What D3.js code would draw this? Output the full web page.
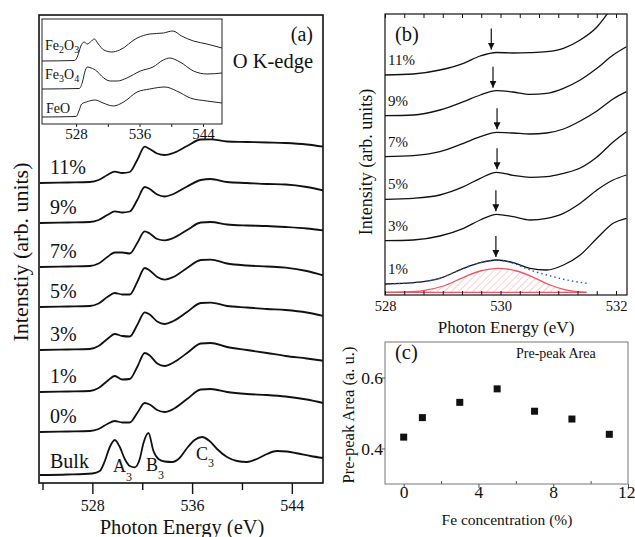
<!DOCTYPE html>
<html>
<head>
<meta charset="utf-8">
<script src="https://cdn.jsdelivr.net/npm/d3@7"></script>
<style>
body { margin: 0; background: #fff; }
svg text { font-family: "Liberation Serif", "Times New Roman", Times, serif !important; fill: #111; }
</style>
</head>
<body>
<script>
// ---- panel (a): O K-edge spectra, heights above each curve's own baseline
var energyA = [523.8, 526, 527.8, 528.5, 529.2, 529.8, 530.4, 531, 531.6, 532.2, 532.6, 533.2,
               533.8, 534.5, 535.6, 536.7, 537.5, 538.8, 540.4, 542, 543.5, 545.2, 546.5];
var fe11 = [0, 0.5, 1, 3, 8, 11.3, 10, 11, 23, 36.3, 34, 29.5, 28, 30, 37, 43.5, 43.7, 41.5, 41, 40.5, 40, 38.5, 36.3];
var fe9  = [0, 0.5, 1, 3, 8, 11.6, 10.5, 11.5, 23, 36, 34, 28.5, 26.5, 29, 36.5, 43, 44, 41, 40, 39, 38.5, 36, 32.6];
var fe7  = [0, 0.5, 1, 3.5, 10, 14.5, 14.5, 13.5, 24, 35.7, 33.5, 28, 26.7, 29, 37, 44.5, 45, 42.5, 41.5, 41, 40, 38.5, 36.7];
var fe5  = [0, 0.5, 1, 3.5, 10, 14, 12.5, 12.5, 25, 39, 36.5, 30, 27.4, 30, 39, 47, 47.4, 43.5, 41.5, 40.5, 39.4, 36, 31.7];
var fe3  = [0, 0.5, 1, 4, 11, 16, 14, 13.5, 25, 37.7, 35.5, 28.5, 26, 29, 38, 47, 47.3, 44, 42.5, 41, 40, 37.5, 34];
var fe1  = [0, 0.5, 1, 4, 11, 16, 12.5, 13, 25, 39, 36.5, 28.5, 26, 29.5, 39, 48.5, 49, 45, 42, 39, 36, 33.5, 31.3];
var fe0  = [0, 0.5, 1, 3, 8, 11, 9.5, 9.5, 19, 29, 27.5, 22, 20, 23, 33, 42.5, 43, 40, 38, 37, 35.5, 32.5, 29];
var labelsA = ["11%", "9%", "7%", "5%", "3%", "1%", "0%"];
var offsetsA = [300, 260, 216, 176, 133, 91, 51];
var seriesA = [fe11, fe9, fe7, fe5, fe3, fe1, fe0];

var energyBulk = [523.8, 526, 528.0, 528.6, 529.0, 529.4, 529.8, 530.2, 530.6, 531.0, 531.4, 531.8,
                  532.1, 532.5, 532.9, 533.3, 533.8, 534.4, 535.0, 535.6, 536.2, 536.8, 537.4, 538.0,
                  538.8, 539.6, 540.4, 541.2, 542.0, 542.8, 543.6, 544.5, 545.5, 546.5];
var bulk = [0, 0.5, 1.5, 4, 14, 28, 35, 28, 16, 9, 7.7, 16, 32, 42, 24, 16, 13.5, 13, 17, 27, 35, 38,
            34, 26, 18, 14, 13, 16, 21, 24, 23.5, 21.5, 19, 17];
var bulkOffset = 8;

// inset reference oxides
var fe2o3E = [523.7, 527.8, 528.2, 528.6, 529.0, 529.4, 529.8, 530.3, 530.8, 531.5, 532.5, 533.5, 535.7, 537.3, 539, 540.2, 541.3, 542.8, 544.5, 546.4];
var fe2o3V = [63, 63.5, 68, 78, 82, 80, 82, 85, 80, 74, 72, 74, 86, 90, 91, 93, 88, 83, 80, 76];
var fe3o4E = [523.7, 528.4, 528.8, 529.1, 529.4, 529.9, 530.6, 531.2, 532.3, 533.2, 534.4, 536.1, 537.7, 539, 539.8, 541.1, 542.8, 544.5, 546.4];
var fe3o4V = [35, 35.5, 42, 52, 57, 56, 53, 48, 43, 43, 46, 53, 57, 64, 66, 62, 53, 50, 51];
var feoE = [523.7, 528, 528.4, 528.7, 529.3, 530.4, 531.4, 532.7, 534, 535.7, 537.3, 539.2, 540.7, 542.4, 544.5, 546.4];
var feoV = [7, 7.5, 14, 20, 22, 24, 21, 18, 22, 32, 35, 37, 33, 26, 23, 21];

// ---- panel (b): pre-edge region
var energyB = [528.0, 528.49, 528.95, 529.36, 529.65, 529.93, 530.22, 530.51, 530.80, 531.09, 531.38, 531.67, 531.95, 532.18];
var b11 = [220, 221, 225, 231.7, 239, 242.5, 242, 242.3, 243.3, 246.7, 255, 268, 289, 305];
var b9  = [179.3, 180, 185, 193.3, 200, 204.3, 203, 200.7, 201.7, 206.7, 215, 226.7, 240, 248.3];
var b7  = [138.3, 139.3, 143.3, 151.7, 158.3, 162.7, 162, 161, 162, 166, 174, 184, 196, 203.3];
var b5  = [95.7, 96.7, 100, 108.3, 116.7, 122.7, 119.7, 117.7, 118.3, 121.7, 127, 138, 153, 163.3];
var b3  = [54.3, 55, 59, 66.7, 75, 80.7, 78.3, 75, 76.7, 81.7, 91.7, 105, 115, 120];
var b1  = [11, 12.3, 16.7, 26.7, 32.3, 35, 32.3, 26.7, 25, 30, 40, 56.7, 71.7, 76.7];
var labelsB = ["11%", "9%", "7%", "5%", "3%", "1%"];
var seriesB = [b11, b9, b7, b5, b3, b1];
var arrowE = [529.84, 529.87, 529.94, 529.94, 529.92, 529.92];

var fitE = [528.0, 528.49, 528.95, 529.36, 529.65, 529.93, 530.22, 530.51, 530.80, 531.09, 531.49];
var fitV = [11, 12.3, 16.7, 26.7, 32.3, 35, 31.7, 25, 20, 15.7, 11.7];
var peakE = [528, 528.35, 528.66, 529.01, 529.36, 529.65, 529.96, 530.28, 530.57, 530.86, 531.09, 531.32, 531.49];
var peakH = [0, 0.4, 1.7, 6.3, 15, 21.3, 24, 21.3, 15, 7.3, 3, 0.7, 0];
var peakBase = 2.7;

// ---- panel (c): pre-peak area
var conc = [0, 1, 3, 5, 7, 9, 11];
var prePeak = [0.432, 0.487, 0.530, 0.568, 0.505, 0.483, 0.440];

var serif = '"Liberation Serif", "Times New Roman", Times, serif';

var svg = d3.select("body").append("svg")
    .attr("width", 635)
    .attr("height", 537)
    .attr("font-family", serif);

svg.append("rect").attr("width", 635).attr("height", 537).attr("fill", "#fff");

function styleAxis(ax, size, color) {
  ax.attr("font-family", serif);
  ax.select(".domain").remove();
  ax.selectAll("line").attr("stroke", color);
  ax.selectAll("text").style("font-size", size + "px").attr("fill", "#111");
}

// ================= panel (a)
var xA = d3.scaleLinear().domain([523.8, 546.5]).range([40, 323]),
    yA = d3.scaleLinear().domain([0, 468]).range([483, 15]);

var gA = svg.append("g");

function lineA(energies, offset) {
  return d3.line()
    .x(function(d, i) { return xA(energies[i]); })
    .y(function(d) { return yA(d + offset); })
    .curve(d3.curveMonotoneX);
}

seriesA.forEach(function(vals, i) {
  gA.append("path")
    .datum(vals)
    .attr("fill", "none")
    .attr("stroke", "#111")
    .attr("stroke-width", 1.8)
    .attr("d", lineA(energyA, offsetsA[i]));
  gA.append("text")
    .attr("x", 50)
    .attr("y", yA(offsetsA[i]) - 9)
    .style("font-size", "20px")
    .text(labelsA[i]);
});

gA.append("path")
  .datum(bulk)
  .attr("fill", "none")
  .attr("stroke", "#111")
  .attr("stroke-width", 1.8)
  .attr("d", lineA(energyBulk, bulkOffset));

gA.append("text").attr("x", 50).attr("y", yA(bulkOffset) - 7).style("font-size", "20px").text("Bulk");

function subLabel(g, x, y, main, sub, size, subSize, subDy) {
  var t = g.append("text").attr("x", x).attr("y", y).style("font-size", size + "px");
  t.append("tspan").text(main);
  t.append("tspan").attr("dy", subDy).style("font-size", subSize + "px").text(sub);
  return t;
}
subLabel(gA, 113, 472, "A", "3", 18, 12, 9);
subLabel(gA, 146, 471, "B", "3", 18, 12, 8);
subLabel(gA, 196, 460, "C", "3", 18, 12, 7);

// frame
gA.append("rect")
  .attr("x", 39).attr("y", 15).attr("width", 284).attr("height", 468)
  .attr("fill", "none").attr("stroke", "#111").attr("stroke-width", 1.6);

var axA = gA.append("g").attr("transform", "translate(0,483)")
  .call(d3.axisBottom(xA).tickValues([528, 536, 544]).tickSize(11).tickSizeOuter(0).tickFormat(d3.format("d")));
styleAxis(axA, 16, "#111");
axA.selectAll("line").attr("stroke-width", 1.4);
axA.selectAll("text").attr("y", 28).attr("dy", 0);

var axAm = gA.append("g").attr("transform", "translate(0,483)")
  .call(d3.axisBottom(xA).tickValues([524, 532, 540]).tickSize(7).tickSizeOuter(0).tickFormat(""));
styleAxis(axAm, 16, "#111");
axAm.selectAll("line").attr("stroke-width", 1.4);

gA.append("text").attr("x", 182).attr("y", 534).attr("text-anchor", "middle")
  .style("font-size", "20.5px").text("Photon Energy (eV)");
gA.append("text").attr("transform", "translate(28,252) rotate(-90)").attr("text-anchor", "middle")
  .style("font-size", "22px").text("Intenstiy (arb. units)");

gA.append("text").attr("x", 313).attr("y", 41).attr("text-anchor", "end").style("font-size", "20px").text("(a)");
gA.append("text").attr("x", 313).attr("y", 68).attr("text-anchor", "end").style("font-size", "20.5px").text("O K-edge");

// inset
var xI = d3.scaleLinear().domain([523.7, 546.4]).range([42, 222]),
    yI = d3.scaleLinear().domain([0, 105]).range([124, 19]);
var gI = svg.append("g");
gI.append("rect").attr("x", 42).attr("y", 19).attr("width", 180).attr("height", 105)
  .attr("fill", "#fff").attr("stroke", "#222").attr("stroke-width", 1);

var lineI = d3.line()
  .x(function(d) { return xI(d[0]); })
  .y(function(d) { return yI(d[1]); })
  .curve(d3.curveMonotoneX);

[[fe2o3E, fe2o3V], [fe3o4E, fe3o4V], [feoE, feoV]].forEach(function(s) {
  gI.append("path")
    .datum(d3.zip(s[0], s[1]))
    .attr("fill", "none").attr("stroke", "#222").attr("stroke-width", 1)
    .attr("d", lineI);
});

var t1 = gI.append("text").attr("x", 45).attr("y", 50).style("font-size", "14px");
t1.append("tspan").text("Fe");
t1.append("tspan").attr("dy", 3).style("font-size", "10px").text("2");
t1.append("tspan").attr("dy", -3).text("O");
t1.append("tspan").attr("dy", 3).style("font-size", "10px").text("3");
var t2 = gI.append("text").attr("x", 45).attr("y", 79).style("font-size", "14px");
t2.append("tspan").text("Fe");
t2.append("tspan").attr("dy", 3).style("font-size", "10px").text("3");
t2.append("tspan").attr("dy", -3).text("O");
t2.append("tspan").attr("dy", 3).style("font-size", "10px").text("4");
gI.append("text").attr("x", 46).attr("y", 113).style("font-size", "14px").text("FeO");

var axI = gI.append("g").attr("transform", "translate(0,124)")
  .call(d3.axisBottom(xI).tickValues([528, 532, 536, 540, 544]).tickSize(3).tickSizeOuter(0)
    .tickFormat(function(d) { return d % 8 === 0 ? d : ""; }));
styleAxis(axI, 15, "#222");
axI.selectAll("text").attr("y", 15).attr("dy", 0);

// ================= panel (b)
var xB = d3.scaleLinear().domain([528, 532.19]).range([385, 627]),
    yB = d3.scaleLinear().domain([0, 281]).range([295, 14]);
var gB = svg.append("g");

var defs = svg.append("defs");
defs.append("clipPath").attr("id", "clipB")
  .append("rect").attr("x", 385).attr("y", 14).attr("width", 242).attr("height", 281);
var pat = defs.append("pattern").attr("id", "hatch")
  .attr("patternUnits", "userSpaceOnUse").attr("width", 5).attr("height", 5)
  .attr("patternTransform", "rotate(45)");
pat.append("line").attr("x1", 0).attr("y1", 0).attr("x2", 0).attr("y2", 5)
  .attr("stroke", "#f3a0a8").attr("stroke-width", 1);
defs.append("marker").attr("id", "arrowhead")
  .attr("viewBox", "0 0 10 10").attr("refX", 10).attr("refY", 5)
  .attr("markerWidth", 7).attr("markerHeight", 7).attr("markerUnits", "userSpaceOnUse")
  .attr("orient", "auto")
  .append("path").attr("d", "M0,0 L10,5 L0,10 z").attr("fill", "#111");

var plotB = gB.append("g").attr("clip-path", "url(#clipB)");

var lineB = d3.line()
  .x(function(d) { return xB(d[0]); })
  .y(function(d) { return yB(d[1]); })
  .curve(d3.curveMonotoneX);

// fitted gaussian
var peakArea = d3.area()
  .x(function(d) { return xB(d[0]); })
  .y0(yB(peakBase))
  .y1(function(d) { return yB(peakBase + d[1]); })
  .curve(d3.curveMonotoneX);
plotB.append("path").datum(d3.zip(peakE, peakH))
  .attr("fill", "url(#hatch)").attr("stroke", "none").attr("d", peakArea);
plotB.append("path").datum(d3.zip(peakE, peakH))
  .attr("fill", "none").attr("stroke", "#ee5566").attr("stroke-width", 1.3)
  .attr("d", peakArea.lineY1());
plotB.append("line")
  .attr("x1", xB(528)).attr("x2", xB(peakE[peakE.length - 1]))
  .attr("y1", yB(peakBase)).attr("y2", yB(peakBase))
  .attr("stroke", "#ee5566").attr("stroke-width", 1.3);

seriesB.forEach(function(vals, i) {
  plotB.append("path").datum(d3.zip(energyB, vals))
    .attr("fill", "none").attr("stroke", "#111").attr("stroke-width", 1.3)
    .attr("d", lineB);
  gB.append("text").attr("x", 388).attr("y", yB(vals[0]) - 10)
    .style("font-size", "15px").text(labelsB[i]);
  var tip = yB(vals[5]) - 3;
  gB.append("line")
    .attr("x1", xB(arrowE[i])).attr("x2", xB(arrowE[i]))
    .attr("y1", tip - 21).attr("y2", tip)
    .attr("stroke", "#111").attr("stroke-width", 1.2)
    .attr("marker-end", "url(#arrowhead)");
});

plotB.append("path").datum(d3.zip(fitE, fitV))
  .attr("fill", "none").attr("stroke", "#3355cc").attr("stroke-width", 1.4)
  .attr("stroke-dasharray", "1.5,3").attr("d", lineB);

gB.append("rect").attr("x", 385).attr("y", 14).attr("width", 242).attr("height", 281)
  .attr("fill", "none").attr("stroke", "#111").attr("stroke-width", 1.2);

var ticksB = d3.range(13).map(function(i) { return 528 + i / 3; });
var axB = gB.append("g").attr("transform", "translate(0,295)")
  .call(d3.axisBottom(xB).tickValues(ticksB).tickSize(-4).tickSizeOuter(0)
    .tickFormat(function(d) {
      var r = Math.round(d);
      return (Math.abs(d - r) < 1e-6 && r % 2 === 0) ? r : "";
    }));
styleAxis(axB, 14.5, "#111");
axB.selectAll("text").attr("y", 16).attr("dy", 0);
var axBt = gB.append("g").attr("transform", "translate(0,14)")
  .call(d3.axisTop(xB).tickValues(ticksB).tickSize(-4).tickSizeOuter(0).tickFormat(""));
styleAxis(axBt, 14.5, "#111");

gB.append("text").attr("x", 395).attr("y", 41).style("font-size", "20.5px").text("(b)");
gB.append("text").attr("x", 506).attr("y", 333).attr("text-anchor", "middle")
  .style("font-size", "17px").text("Photon Energy (eV)");
gB.append("text").attr("transform", "translate(372,162) rotate(-90)").attr("text-anchor", "middle")
  .style("font-size", "18px").text("Intensity (arb. units)");

// ================= panel (c)
var xC = d3.scaleLinear().domain([-1, 12]).range([385, 628]),
    yC = d3.scaleLinear().domain([0.3, 0.7]).range([484, 342]);
var gC = svg.append("g");

gC.append("rect").attr("x", 385).attr("y", 342).attr("width", 243).attr("height", 142)
  .attr("fill", "none").attr("stroke", "#777").attr("stroke-width", 1);

var axC = gC.append("g").attr("transform", "translate(0,484)")
  .call(d3.axisBottom(xC).tickValues([0, 4, 8, 12]).tickSize(4).tickSizeOuter(0).tickFormat(d3.format("d")));
styleAxis(axC, 17.5, "#555");
axC.selectAll("text").attr("y", 14).attr("dy", 0)
  .attr("text-anchor", function(d) { return d === 12 ? "end" : "middle"; })
  .attr("dx", function(d) { return d === 12 ? 7 : 0; });
var axCm = gC.append("g").attr("transform", "translate(0,484)")
  .call(d3.axisBottom(xC).tickValues([2, 6, 10]).tickSize(-3).tickSizeOuter(0).tickFormat(""));
styleAxis(axCm, 17.5, "#555");

var ayC = gC.append("g").attr("transform", "translate(385,0)")
  .call(d3.axisLeft(yC).tickValues([0.4, 0.6]).tickSize(3).tickSizeOuter(0).tickFormat(d3.format(".1f")));
styleAxis(ayC, 17.5, "#555");
ayC.selectAll("text").attr("x", -2);

gC.selectAll("rect.pt")
  .data(d3.zip(conc, prePeak))
  .enter().append("rect")
  .attr("class", "pt")
  .attr("x", function(d) { return xC(d[0]) - 3.5; })
  .attr("y", function(d) { return yC(d[1]) - 3.5; })
  .attr("width", 7).attr("height", 7)
  .attr("fill", "#111");

gC.append("text").attr("x", 395).attr("y", 359).style("font-size", "20.5px").text("(c)");
gC.append("text").attr("x", 516).attr("y", 358).style("font-size", "14px").text("Pre-peak Area");
gC.append("text").attr("x", 507).attr("y", 525).attr("text-anchor", "middle")
  .style("font-size", "15.5px").text("Fe concentration (%)");
gC.append("text").attr("transform", "translate(354,415) rotate(-90)").attr("text-anchor", "middle")
  .style("font-size", "16.5px").text("Pre-peak Area (a. u.)");
</script>
</body>
</html>
